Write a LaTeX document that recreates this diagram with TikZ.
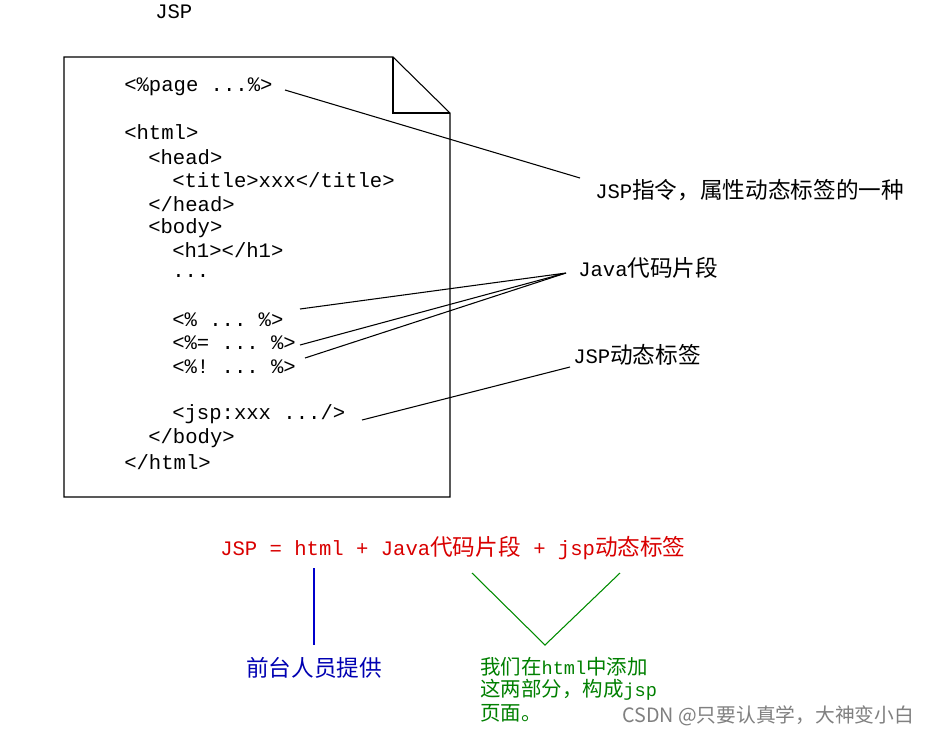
\documentclass[tikz,border=0pt]{standalone}
\usepackage{fontspec}
\setmonofont{Liberation Mono}
\newfontfamily\cjk[Scale=1.1]{Noto Sans CJK SC}
\newcommand{\mx}[1]{{\ttfamily #1}}
\begin{document}
\begin{tikzpicture}[x=0.0264583cm,y=-0.0264583cm,
  code/.style={anchor=west,inner sep=0pt,font=\fontsize{15.5}{18}\selectfont\ttfamily},
  lab/.style={anchor=west,inner sep=0pt,font=\fontsize{15.5}{18}\selectfont},
  grn/.style={anchor=west,inner sep=0pt,font=\fontsize{14}{16}\selectfont,text=green!50!black},
  ln/.style={line width=0.8pt}]
\useasboundingbox[fill=white] (0,0) rectangle (927,735);
\draw[ln] (64,57) -- (393,57) -- (450,113) -- (450,497) -- (64,497) -- cycle;
\draw[ln] (393,57) -- (393,113) -- (450,113);
\node[code] (t) at (155,12) {JSP};
\node[code] (c1) at (124,87) {<\%page ...\%>};
\node[code] at (124,132) {<html>};
\node[code] at (148,157) {<head>};
\node[code] at (172,180) {<title>xxx</title>};
\node[code] at (148,204) {</head>};
\node[code] at (148,228) {<body>};
\node[code] at (172,250) {<h1></h1>};
\node[code] at (172,276) {...};
\node[code] (c2) at (172,320) {<\% ... \%>};
\node[code] (c3) at (172,343) {<\%= ... \%>};
\node[code] (c4) at (172,367) {<\%! ... \%>};
\node[code] (c5) at (172,414) {<jsp:xxx .../>};
\node[code] at (148,438) {</body>};
\node[code] at (124,462) {</html>};
\node[lab] (l1) at (595,190) {\mx{JSP}\cjk 指令，属性动态标签的一种};
\node[lab] (l2) at (578,268) {\mx{Java}\cjk 代码片段};
\node[lab] (l3) at (573,355) {\mx{JSP}\cjk 动态标签};
\coordinate (a1) at (285,90); \coordinate (b1) at (580,178);
\draw[ln] (a1) -- (b1);
\coordinate (j) at (566,273);
\coordinate (a2) at (300,309); \coordinate (a3) at (300,345); \coordinate (a4) at (305,358);
\draw[ln] (a2) -- (j) -- (a3); \draw[ln] (a4) -- (j);
\coordinate (a5) at (362,420); \coordinate (b5) at (570,367);
\draw[ln] (a5) -- (b5);
\node[lab,text=red!85!black] (eq) at (220,548) {\ttfamily JSP = html + Java{\cjk 代码片段} + jsp{\cjk 动态标签}};
\coordinate (p1) at (314,568); \coordinate (p2) at (314,645);
\draw[ln,blue!80!black] (p1) -- (p2);
\node[lab,text=blue!70!black,anchor=center] (bt) at (314,668) {\cjk 前台人员提供};
\coordinate (v1) at (472,573); \coordinate (v2) at (545,645); \coordinate (v3) at (620,573);
\draw[ln,green!55!black] (v1) -- (v2) -- (v3);
\node[grn] (g1) at (480,667) {\cjk 我们在\mx{html}中添加};
\node[grn] (g2) at (480,690) {\cjk 这两部分，构成\mx{jsp}};
\node[grn] (g3) at (480,713) {\cjk 页面。};
\node[anchor=west,inner sep=0pt,text=gray,font=\fontsize{13.5}{15}\selectfont\cjk] (w) at (622,716) {CSDN @只要认真学，大神变小白};
\end{tikzpicture}
\end{document}
